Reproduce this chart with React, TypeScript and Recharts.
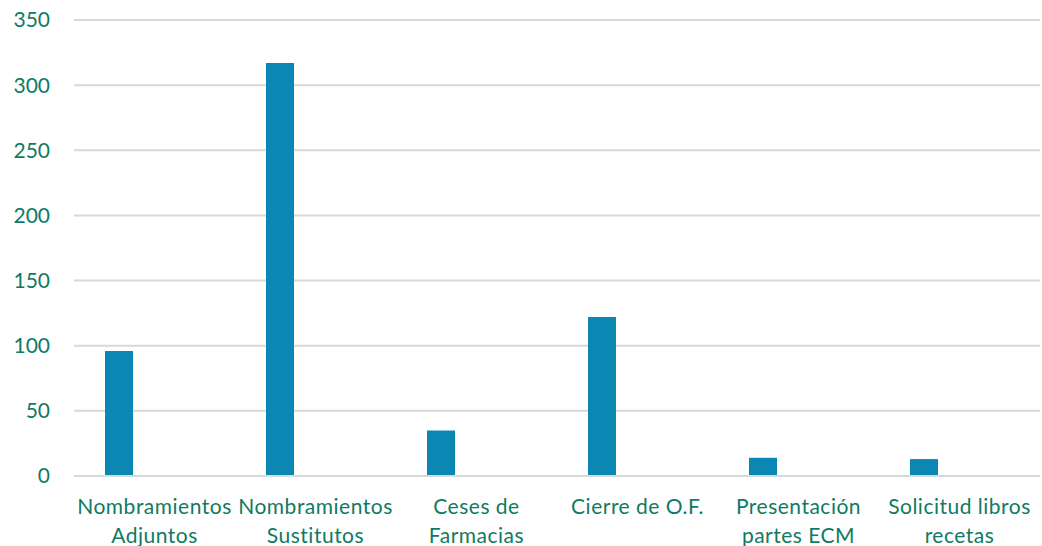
import { BarChart, Bar, XAxis, YAxis, CartesianGrid } from 'recharts';

const categories = [
  'Nombramientos\nAdjuntos',
  'Nombramientos\nSustitutos',
  'Ceses de\nFarmacias',
  'Cierre de O.F.',
  'Presentación\npartes ECM',
  'Solicitud libros\nrecetas',
];
const tramites = [96, 317, 35, 122, 14, 13];
const yTicks = [0, 50, 100, 150, 200, 250, 300, 350];

const data = categories.map((name, i) => ({ name, value: tramites[i], empty: null }));

const TEXT = '#107A63';
const FONT = 'Lato, "Open Sans", sans-serif';

function CategoryTick({ x, y, payload }: { x?: number; y?: number; payload?: { value: string } }) {
  const lines = String(payload?.value ?? '').split('\n');
  return (
    <text
      x={x}
      y={y}
      textAnchor="middle"
      fill={TEXT}
      fontSize={21}
      fontFamily={FONT}
      letterSpacing={0.5}
    >
      {lines.map((line, i) => (
        <tspan key={i} x={x} dy={i === 0 ? 30 : 29}>
          {line}
        </tspan>
      ))}
    </text>
  );
}

export default function App() {
  return (
    <div style={{ position: 'absolute', left: 0, top: 0, width: 1042, height: 546, background: '#fff' }}>
      <BarChart
        width={1042}
        height={546}
        data={data}
        margin={{ top: 20, right: 2, bottom: 0, left: 0 }}
        barSize={28}
        barGap={44}
      >
        <CartesianGrid stroke="#D9D9D9" strokeWidth={2} vertical={false} />
        <XAxis
          dataKey="name"
          height={70}
          axisLine={{ stroke: '#D9D9D9', strokeWidth: 2 }}
          tickLine={false}
          interval={0}
          tick={<CategoryTick />}
        />
        <YAxis
          width={74}
          domain={[0, 350]}
          ticks={yTicks}
          axisLine={false}
          tickLine={false}
          tickMargin={18}
          tick={{ fill: TEXT, fontSize: 21, fontFamily: FONT }}
        />
        <Bar dataKey="value" fill="#0B87B3" isAnimationActive={false} />
        <Bar dataKey="empty" fill="#0B87B3" isAnimationActive={false} />
      </BarChart>
    </div>
  );
}
